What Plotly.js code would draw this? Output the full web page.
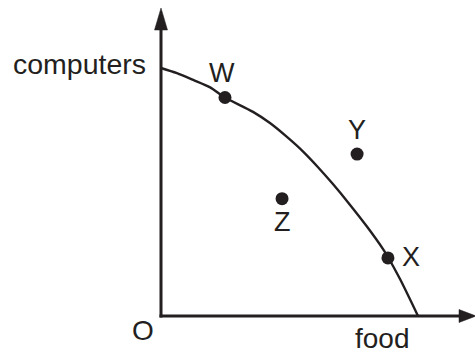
<!DOCTYPE html>
<html>
<head>
<meta charset="utf-8">
<script src="https://cdn.plot.ly/plotly-3.0.1.min.js"></script>
<style>html,body{margin:0;padding:0;background:#fff;}#chart{width:475px;height:354px;}</style>
</head>
<body>
<div id="chart"></div>
<script>
// Production possibility frontier (food on x, computers on y), units
var frontierFood = [0, 0.62, 1.25, 1.91, 2.49, 3.58, 4.24, 4.90, 5.53, 6.11, 6.69, 7.35, 8.02, 8.64, 8.83, 9.30, 10];
var frontierComputers = [10, 9.79, 9.52, 9.22, 8.81, 8.23, 7.78, 7.22, 6.63, 6.00, 5.32, 4.49, 3.60, 2.70, 2.38, 1.49, 0];

var pointNames = ["W", "Y", "Z", "X"];
var pointFood = [2.49, 7.63, 4.71, 8.83];
var pointComputers = [8.81, 6.53, 4.73, 2.34];
var labelShiftX = [-3, 0, 0, 23];
var labelShiftY = [25, 24, -23, 1];

var axisLabels = ["computers", "food", "O"];

// layout geometry (pixels)
var W = 475, H = 354;
var ox = 161, oy = 316;       // origin pixel
var kx = 25.7, ky = 24.8;     // pixels per unit
function dx(p){ return (p - ox) / kx; }
function dy(p){ return (oy - p) / ky; }

var ink = "#231f20";
var fontFam = "Liberation Sans, Arial, sans-serif";

var traces = [
  { x: frontierFood, y: frontierComputers, mode: "lines",
    line: { color: ink, width: 2.4, shape: "spline", smoothing: 0.8 },
    hoverinfo: "skip", showlegend: false },
  { x: pointFood, y: pointComputers, mode: "markers",
    marker: { color: ink, size: 13 }, hoverinfo: "skip", showlegend: false }
];

var shapes = [
  // y axis
  { type: "line", xref: "x", yref: "y", x0: 0, y0: dy(317.5), x1: 0, y1: dy(28),
    line: { color: ink, width: 3 } },
  { type: "path", xref: "x", yref: "y",
    path: "M " + dx(154.5) + " " + dy(30) + " L " + dx(167.5) + " " + dy(30) + " L " + dx(161) + " " + dy(8) + " Z",
    fillcolor: ink, line: { color: ink, width: 0.5 } },
  // x axis
  { type: "line", xref: "x", yref: "y", x0: dx(159.5), y0: 0, x1: dx(462), y1: 0,
    line: { color: ink, width: 3 } },
  { type: "path", xref: "x", yref: "y",
    path: "M " + dx(459) + " " + dy(309.5) + " L " + dx(459) + " " + dy(322.5) + " L " + dx(476) + " " + dy(316) + " Z",
    fillcolor: ink, line: { color: ink, width: 0.5 } }
];

var annotations = [];
for (var i = 0; i < pointNames.length; i++) {
  annotations.push({ x: pointFood[i], y: pointComputers[i], xref: "x", yref: "y",
    text: pointNames[i], showarrow: false, xshift: labelShiftX[i], yshift: labelShiftY[i],
    xanchor: "center", yanchor: "middle",
    font: { family: fontFam, size: 27, color: ink } });
}
annotations.push({ x: dx(79), y: dy(64), xref: "x", yref: "y", text: axisLabels[0], showarrow: false,
  xanchor: "center", yanchor: "middle", font: { family: fontFam, size: 28.5, color: ink } });
annotations.push({ x: dx(382), y: dy(338), xref: "x", yref: "y", text: axisLabels[1], showarrow: false,
  xanchor: "center", yanchor: "middle", font: { family: fontFam, size: 28, color: ink } });
annotations.push({ x: dx(143), y: dy(330), xref: "x", yref: "y", text: axisLabels[2], showarrow: false,
  xanchor: "center", yanchor: "middle", font: { family: fontFam, size: 28, color: ink } });

var layout = {
  width: W, height: H,
  margin: { l: 0, r: 0, t: 0, b: 0, pad: 0 },
  paper_bgcolor: "#fff", plot_bgcolor: "#fff",
  xaxis: { range: [dx(0), dx(W)], visible: false, fixedrange: true },
  yaxis: { range: [dy(H), dy(0)], visible: false, fixedrange: true },
  shapes: shapes, annotations: annotations, showlegend: false
};

Plotly.newPlot("chart", traces, layout, { staticPlot: true, displayModeBar: false });
</script>
</body>
</html>
